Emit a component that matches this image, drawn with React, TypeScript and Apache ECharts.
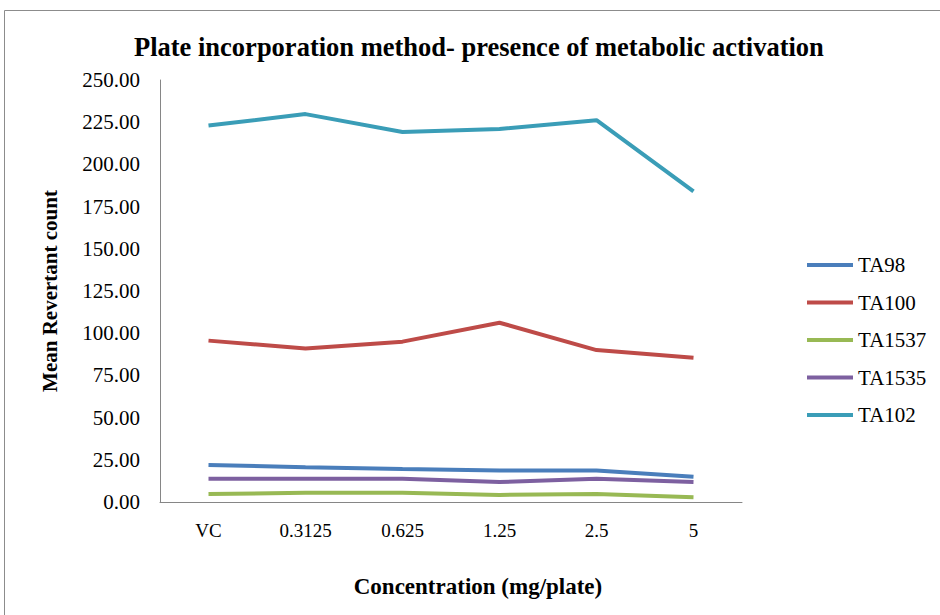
import React, { useEffect, useRef } from "react";
import * as echarts from "echarts";

const categories = ["VC", "0.3125", "0.625", "1.25", "2.5", "5"];
const seriesNames = ["TA98", "TA100", "TA1537", "TA1535", "TA102"];
const ta98 = [21.9, 20.6, 19.5, 18.6, 18.6, 15.0];
const ta100 = [95.6, 91.0, 95.0, 106.2, 90.0, 85.5];
const ta1537 = [4.7, 5.5, 5.5, 4.2, 4.7, 2.8];
const ta1535 = [13.8, 13.8, 13.8, 11.8, 13.8, 11.8];
const ta102 = [223.0, 229.8, 219.2, 221.0, 226.2, 184.0];
const colors = ["#4A7EBB", "#BE4B48", "#98B954", "#7D60A0", "#3A9DB7"];
const yTicks = { min: 0, max: 250, interval: 25 };

export default function App() {
  const ref = useRef<HTMLDivElement>(null);
  useEffect(() => {
    if (!ref.current) return;
    const chart = echarts.init(ref.current, null, { renderer: "svg" });
    const data = [ta98, ta100, ta1537, ta1535, ta102];
    const font = "Liberation Serif";
    chart.setOption({
      animation: false,
      backgroundColor: "#ffffff",
      textStyle: { fontFamily: font },
      title: {
        text: "Plate incorporation method- presence of metabolic activation",
        left: 129,
        top: 28,
        textStyle: { fontFamily: font, fontSize: 26.5, fontWeight: "bold", color: "#000" },
      },
      graphic: [
        {
          type: "rect",
          shape: { x: 4.5, y: 10.5, width: 1000, height: 700 },
          style: { fill: "none", stroke: "#8c8c8c", lineWidth: 1 },
          silent: true,
        },
      ],
      legend: {
        orient: "vertical",
        left: 807,
        top: 254.5,
        padding: 0,
        itemWidth: 46,
        itemHeight: 4,
        itemGap: 16.5,
        icon: "rect",
        textStyle: { fontFamily: font, fontSize: 21, fontWeight: "normal", color: "#000" },
        data: seriesNames,
      },
      grid: { left: 160, right: 198, top: 80, bottom: 113 },
      xAxis: {
        type: "category",
        data: categories,
        boundaryGap: true,
        axisLine: { lineStyle: { color: "#868686", width: 1 } },
        axisTick: { show: false },
        axisLabel: { fontFamily: font, fontSize: 19, fontWeight: "normal", color: "#000", margin: 19 },
        name: "Concentration (mg/plate)",
        nameLocation: "middle",
        nameGap: 73,
        nameTextStyle: {
          fontFamily: font,
          fontSize: 23,
          fontWeight: "bold",
          color: "#000",
          padding: [0, 0, 0, 54],
        },
      },
      yAxis: {
        type: "value",
        min: yTicks.min,
        max: yTicks.max,
        interval: yTicks.interval,
        axisLine: { show: true, lineStyle: { color: "#868686", width: 1 } },
        axisTick: { show: false },
        splitLine: { show: false },
        axisLabel: {
          fontFamily: font,
          fontSize: 21,
          fontWeight: "normal",
          color: "#000",
          margin: 20,
          formatter: (v: number) => v.toFixed(2),
        },
        name: "Mean Revertant count",
        nameLocation: "middle",
        nameGap: 100,
        nameTextStyle: { fontFamily: font, fontSize: 21, fontWeight: "bold", color: "#000" },
      },
      series: seriesNames.map((n, i) => ({
        name: n,
        type: "line",
        data: data[i],
        symbol: "none",
        lineStyle: { width: 4, color: colors[i] },
        itemStyle: { color: colors[i] },
      })),
    });
    return () => chart.dispose();
  }, []);
  return (
    <div
      ref={ref}
      style={{ position: "fixed", left: 0, top: 0, width: 940, height: 615 }}
    />
  );
}
